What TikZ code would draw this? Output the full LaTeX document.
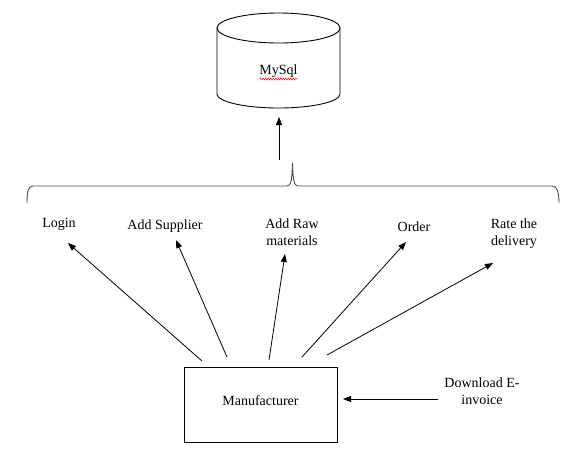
\documentclass[tikz,border=0pt]{standalone}
\usepackage{fontspec}
\setmainfont{Liberation Serif}
\usetikzlibrary{arrows.meta,decorations.pathmorphing}
\begin{document}
\begin{tikzpicture}[x=1pt,y=-1pt,
  lbl/.style={font=\fontsize{14}{17}\selectfont, align=center, inner sep=0pt},
  arr/.style={-{Triangle[length=8pt,width=6pt]}, line width=0.8pt},
  ln/.style={line width=0.9pt}]
\useasboundingbox (0,0) rectangle (581,456);
% cylinder
\draw[ln] (217,28) -- (217,94) arc[start angle=180,end angle=0,x radius=61.5,y radius=14] -- (340,28);
\draw[ln] (278.5,28) ellipse[x radius=61.5,y radius=15];
\node[lbl] (db) at (278.5,71) {MySql};
\draw[red, line width=0.5pt, decorate, decoration={snake,amplitude=1pt,segment length=2.5pt}] (260,79) -- (297,79);
\coordinate (dbb) at (279,117);
\coordinate (brtop) at (279,160);
\draw[arr] (brtop) -- (dbb);
% brace
\draw[line width=0.9pt, black!70] (27,203) .. controls (27,192) and (28,186) .. (33,186) -- (287,186) .. controls (291,186) and (292,180) .. (292.5,163) .. controls (293,180) and (294,186) .. (298,186) -- (552,186) .. controls (557,186) and (559,192) .. (559,203);
% labels
\node[lbl] (login) at (59,224) {Login};
\node[lbl] (sup) at (165,226) {Add Supplier};
\node[lbl] (raw) at (292,232) {Add Raw\\materials};
\node[lbl] (order) at (414,227) {Order};
\node[lbl] (rate) at (514,234) {Rate the\\delivery};
% manufacturer
\node[draw, ln, minimum width=153pt, minimum height=75pt, inner sep=0pt] (man) at (260.5,404.5) {};
\node[lbl] (mantxt) at (260.5,401) {Manufacturer};
\coordinate (t1) at (202,361);
\coordinate (t2) at (227,357);
\coordinate (t3) at (269,360);
\coordinate (t4) at (302,357);
\coordinate (t5) at (327,355);
\coordinate (h1) at (68,243);
\coordinate (h2) at (176,240);
\coordinate (h3) at (285,254);
\coordinate (h4) at (406,242);
\coordinate (h5) at (493,263);
\draw[arr] (t1) -- (h1);
\draw[arr] (t2) -- (h2);
\draw[arr] (t3) -- (h3);
\draw[arr] (t4) -- (h4);
\draw[arr] (t5) -- (h5);
% download
\node[lbl] (dl) at (482,391) {Download E-\\invoice};
\coordinate (dls) at (438,399);
\coordinate (dle) at (343,399);
\draw[arr] (dls) -- (dle);
\end{tikzpicture}
\end{document}
